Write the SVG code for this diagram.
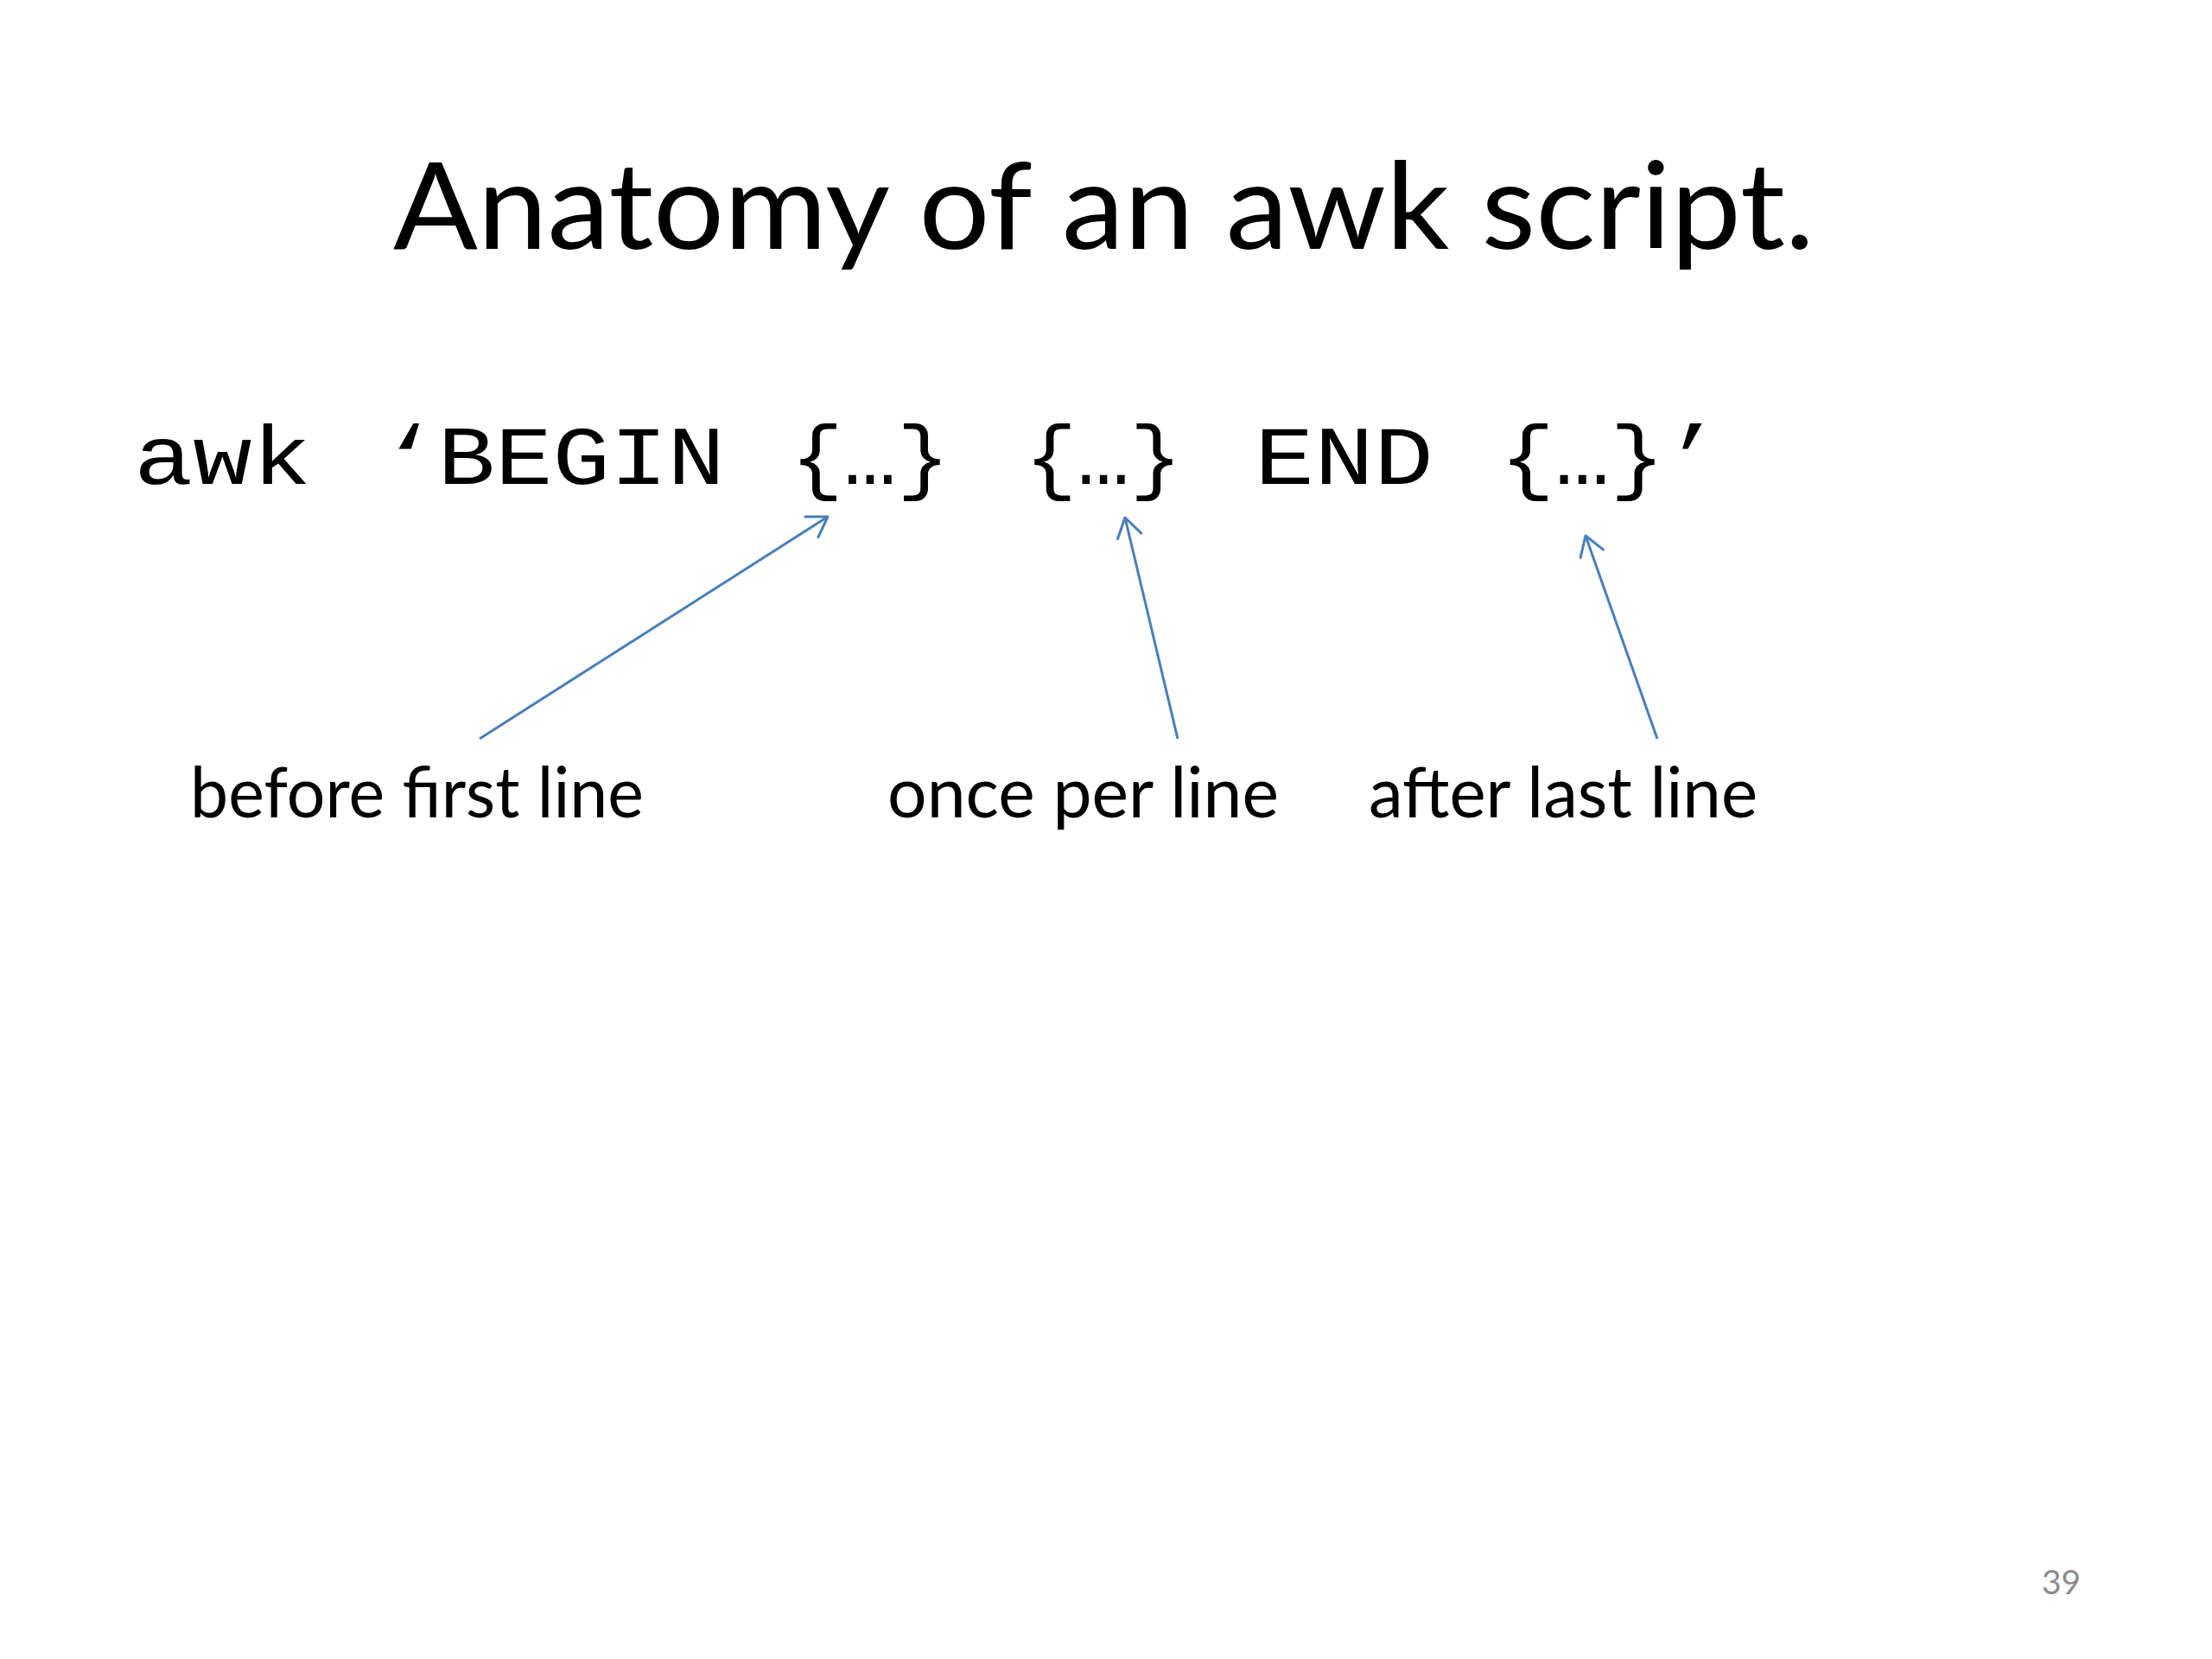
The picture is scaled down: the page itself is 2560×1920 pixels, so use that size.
<svg xmlns="http://www.w3.org/2000/svg" width="2560" height="1920" viewBox="0 0 2560 1920">
  <style>
    .title { font-family: Lato, "Open Sans", "Liberation Sans", sans-serif; font-size: 140px; fill: #000; }
    .code { font-family: "Liberation Mono", "DejaVu Sans Mono", monospace; font-size: 97px; fill: #000; }
    .label { font-family: Lato, "Open Sans", "Liberation Sans", sans-serif; font-size: 82px; fill: #000; }
    .pagenum { font-family: Lato, "Open Sans", "Liberation Sans", sans-serif; font-size: 39px; fill: #8c8c8c; }
    .conn { stroke: #4a7ebb; stroke-width: 3; fill: none; }
  </style>
  <defs>
    <marker id="open" markerUnits="userSpaceOnUse" markerWidth="40" markerHeight="40" viewBox="-30 -20 40 40" refX="0" refY="0" orient="auto" overflow="visible">
      <path d="M-22,-14 L0,0 L-22,14" fill="none" stroke="#4a7ebb" stroke-width="3" stroke-linecap="round" stroke-linejoin="round"/>
    </marker>
  </defs>
  <rect x="0" y="0" width="2560" height="1920" fill="#ffffff"/>

  <g id="title">
    <text class="title" x="455" y="288" textLength="1645" lengthAdjust="spacingAndGlyphs">Anatomy of an awk script.</text>
  </g>

  <g id="code-line">
    <text class="code" y="560">
      <tspan x="155" textLength="205" lengthAdjust="spacingAndGlyphs">awk</tspan>
      <tspan x="440" textLength="399" lengthAdjust="spacingAndGlyphs">‘BEGIN</tspan>
      <tspan x="915" textLength="184" lengthAdjust="spacingAndGlyphs">{…}</tspan>
      <tspan x="1186" textLength="182" lengthAdjust="spacingAndGlyphs">{…}</tspan>
      <tspan x="1452" textLength="207" lengthAdjust="spacingAndGlyphs">END</tspan>
      <tspan x="1736" textLength="254" lengthAdjust="spacingAndGlyphs">{…}’</tspan>
    </text>
  </g>

  <g id="label-before">
    <text class="label" x="220" y="946" textLength="525" lengthAdjust="spacingAndGlyphs">before first line</text>
  </g>
  <g id="label-once">
    <text class="label" x="1027" y="946" textLength="453" lengthAdjust="spacingAndGlyphs">once per line</text>
  </g>
  <g id="label-after">
    <text class="label" x="1584" y="946" textLength="450" lengthAdjust="spacingAndGlyphs">after last line</text>
  </g>

  <g id="connectors">
    <line class="conn" x1="555" y1="855" x2="958" y2="598" marker-end="url(#open)"/>
    <line class="conn" x1="1363" y1="855" x2="1302" y2="599" marker-end="url(#open)"/>
    <line class="conn" x1="1918" y1="855" x2="1835" y2="620" marker-end="url(#open)"/>
  </g>

  <g id="page-number">
    <text class="pagenum" x="2363" y="1845">39</text>
  </g>
</svg>
